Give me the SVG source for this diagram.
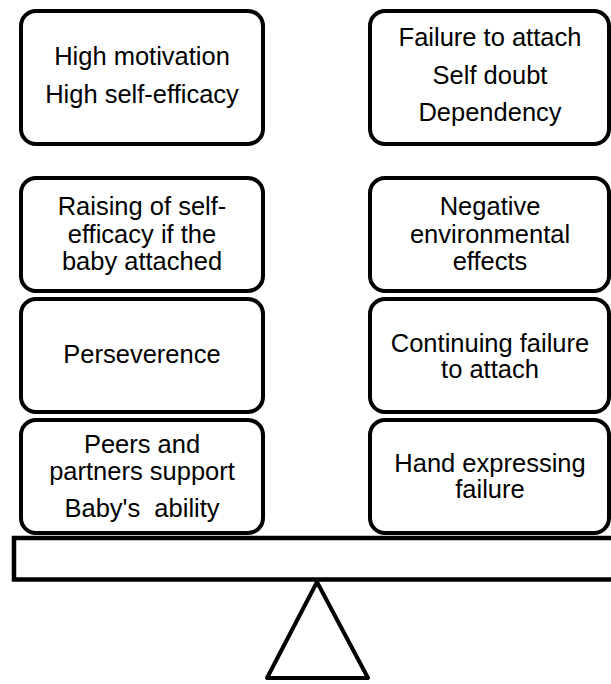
<svg xmlns="http://www.w3.org/2000/svg" width="611" height="684" viewBox="0 0 611 684">
<style>
.box{fill:#fff;stroke:#000;stroke-width:4}
.t{font-family:"Liberation Sans",Arial,sans-serif;font-size:25.5px;fill:#000;text-anchor:middle}
</style>
<rect width="611" height="684" fill="#fff"/>
<g id="base">
<rect x="14" y="538" width="610" height="41.5" fill="#fff" stroke="#000" stroke-width="4.5"/>
<polygon points="317,582 267,678 368,678" fill="#fff" stroke="#000" stroke-width="4" stroke-linejoin="round"/>
</g>
<g id="l1"><rect class="box" x="21" y="11" width="242" height="133" rx="15"/>
<text class="t" x="142" y="65">High motivation</text><text class="t" x="142" y="103">High self-efficacy</text></g>
<g id="r1"><rect class="box" x="370" y="11" width="239" height="133" rx="15"/>
<text class="t" x="490" y="46">Failure to attach</text><text class="t" x="490" y="84">Self doubt</text><text class="t" x="490" y="121">Dependency</text></g>
<g id="l2"><rect class="box" x="21" y="178" width="242" height="113" rx="15"/>
<text class="t" x="142" y="215">Raising of self-</text><text class="t" x="142" y="243">efficacy if the</text><text class="t" x="142" y="270">baby attached</text></g>
<g id="r2"><rect class="box" x="370" y="178" width="239" height="113" rx="15"/>
<text class="t" x="490" y="215">Negative</text><text class="t" x="490" y="243">environmental</text><text class="t" x="490" y="270">effects</text></g>
<g id="l3"><rect class="box" x="21" y="299" width="242" height="113" rx="15"/>
<text class="t" x="142" y="363">Perseverence</text></g>
<g id="r3"><rect class="box" x="370" y="299" width="239" height="113" rx="15"/>
<text class="t" x="490" y="352">Continuing failure</text><text class="t" x="490" y="378">to attach</text></g>
<g id="l4"><rect class="box" x="21" y="420" width="242" height="113" rx="15"/>
<text class="t" x="142" y="453">Peers and</text><text class="t" x="142" y="480">partners support</text><text class="t" x="142" y="517" xml:space="preserve">Baby's  ability</text></g>
<g id="r4"><rect class="box" x="370" y="420" width="239" height="113" rx="15"/>
<text class="t" x="490" y="472">Hand expressing</text><text class="t" x="490" y="498">failure</text></g>
<g id="connectors"></g>
</svg>
